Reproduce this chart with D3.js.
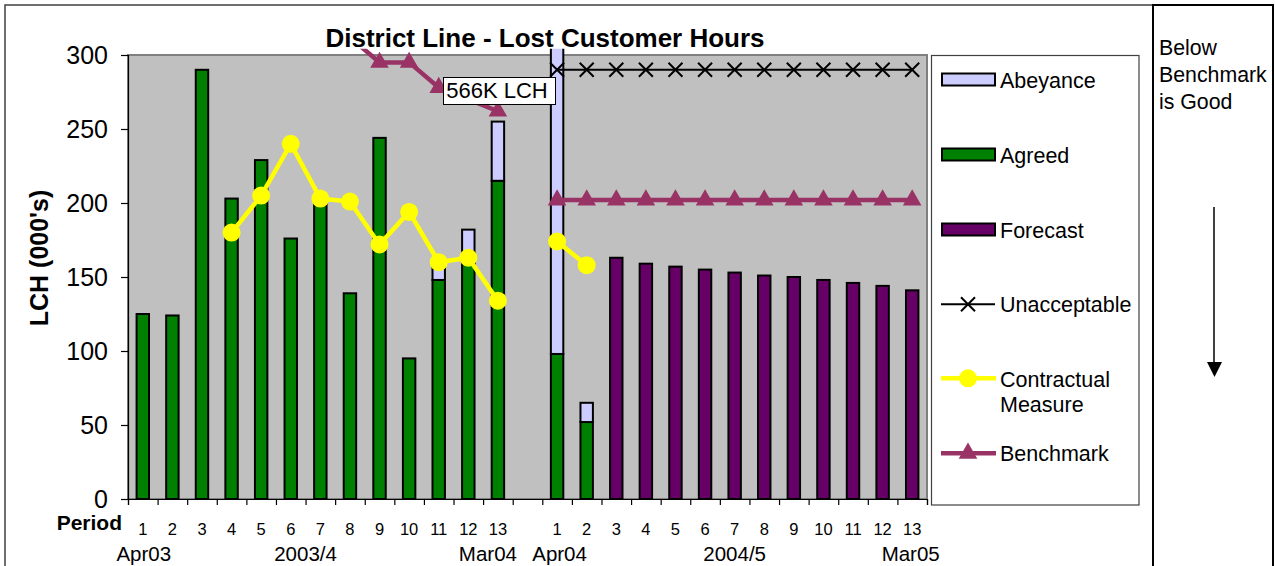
<!DOCTYPE html>
<html><head><meta charset="utf-8">
<script src="https://cdn.jsdelivr.net/npm/d3@7"></script>
<style>body{margin:0;background:#fff}svg{display:block;font-family:Arial,"Liberation Sans",sans-serif}</style>
</head><body><svg id="c" width="1275" height="566"></svg>
<script>
// ---- data ----
const periods = ["1","2","3","4","5","6","7","8","9","10","11","12","13"];
const categories = periods.map(p=>"A"+p).concat(["gap"]).concat(periods.map(p=>"B"+p));
const agreed03 = [125,124,290,203,229,176,204,139,244,95,148,159,215];
const abeyance03 = [0,0,0,0,0,0,0,0,0,0,8,23,40];
const agreed04 = [98,52,null,null,null,null,null,null,null,null,null,null,null];
const abeyance04 = [468,13,0,0,0,0,0,0,0,0,0,0,0];
const forecast04 = [null,null,163,159,157,155,153,151,150,148,146,144,141];
const unacceptable04 = [290,290,290,290,290,290,290,290,290,290,290,290,290];
const contractual03 = [null,null,null,180,205,240,203,201,172,194,160,163,134];
const contractual04 = [174,158,null,null,null,null,null,null,null,null,null,null,null];
const benchmark03 = [null,null,null,null,null,null,null,312,295,295,278,270,262];
const benchmark04 = [202,202,202,202,202,202,202,202,202,202,202,202,202];
const yTicks = [0,50,100,150,200,250,300];
const yearLabels = ["Apr03","2003/4","Mar04","Apr04","2004/5","Mar05"];
const legendItems = ["Abeyance","Agreed","Forecast","Unacceptable","Contractual Measure","Benchmark"];

const svg = d3.select("#c");
const L=128, R=927, T=55, B=499;
const x = d3.scaleBand().domain(categories).range([L,R]).paddingInner(0.58).paddingOuter(0.29);
const y = d3.scaleLinear().domain([0,300]).range([B,T]);
const cx = k => x(k)+x.bandwidth()/2;

// outer frame
svg.append("path").attr("d","M5,566V5H1153").attr("fill","none").attr("stroke","#404040").attr("stroke-width",1.5);
svg.append("path").attr("d","M1153,566V5H1273V566").attr("fill","none").attr("stroke","#000").attr("stroke-width",2);

// plot area
svg.append("rect").attr("x",L).attr("y",T).attr("width",R-L).attr("height",B-T).attr("fill","#C0C0C0").attr("stroke","#808080").attr("stroke-width",2);

svg.append("defs").append("clipPath").attr("id","clip").append("rect").attr("x",L-20).attr("y",48.5).attr("width",R-L+40).attr("height",B-48+20);
const g = svg.append("g").attr("clip-path","url(#clip)");

// bars
const barRows = [];
periods.forEach((p,i)=>{
  barRows.push({k:"A"+p, agreed:agreed03[i], abey:abeyance03[i], fc:null});
  barRows.push({k:"B"+p, agreed:agreed04[i], abey:abeyance04[i], fc:forecast04[i]});
});
barRows.forEach(d=>{
  if(d.fc!=null){
    g.append("rect").attr("x",x(d.k)).attr("width",x.bandwidth()).attr("y",y(d.fc)).attr("height",y(0)-y(d.fc)).attr("fill","#660066").attr("stroke","#000").attr("stroke-width",2);
  }
  if(d.agreed!=null){
    g.append("rect").attr("x",x(d.k)).attr("width",x.bandwidth()).attr("y",y(d.agreed)).attr("height",y(0)-y(d.agreed)).attr("fill","#008000").attr("stroke","#000").attr("stroke-width",2);
    if(d.abey>0){
      const top=d.agreed+d.abey;
      g.append("rect").attr("x",x(d.k)).attr("width",x.bandwidth()).attr("y",y(top)).attr("height",y(d.agreed)-y(top)).attr("fill","#CCCCFF").attr("stroke","#000").attr("stroke-width",2);
    }
  }
});

// lines
function series(arr, prefix){ return arr.map((v,i)=>({k:prefix+periods[i], v})).filter(d=>d.v!=null); }
const line = d3.line().x(d=>cx(d.k)).y(d=>y(d.v));

const un = series(unacceptable04,"B");
g.append("path").attr("d",line(un)).attr("fill","none").attr("stroke","#000").attr("stroke-width",2);
un.forEach(d=>{
  const px=cx(d.k), py=y(d.v), s=7;
  g.append("path").attr("d",`M${px-s},${py-s}L${px+s},${py+s}M${px-s},${py+s}L${px+s},${py-s}`).attr("stroke","#000").attr("stroke-width",2);
});

const tri = d3.symbol().type(d3.symbolTriangle).size(150);
[series(benchmark03,"A"), series(benchmark04,"B")].forEach(s=>{
  g.append("path").attr("d",line(s)).attr("fill","none").attr("stroke","#993366").attr("stroke-width",4.5);
  s.forEach(d=>g.append("path").attr("d",tri()).attr("transform",`translate(${cx(d.k)},${y(d.v)})`).attr("fill","#993366"));
});

[series(contractual03,"A"), series(contractual04,"B")].forEach(s=>{
  g.append("path").attr("d",line(s)).attr("fill","none").attr("stroke","#FFFF00").attr("stroke-width",4.5);
  s.forEach(d=>g.append("circle").attr("cx",cx(d.k)).attr("cy",y(d.v)).attr("r",9).attr("fill","#FFFF00"));
});

// title
svg.append("rect").attr("x",318).attr("y",24).attr("width",454).attr("height",24.5).attr("fill","#fff");
svg.append("text").attr("x",545).attr("y",47).attr("text-anchor","middle").attr("font-weight","bold").attr("font-size",26).text("District Line - Lost Customer Hours");

// 566K label
svg.append("rect").attr("x",443.5).attr("y",77.5).attr("width",112).attr("height",27).attr("fill","#fff").attr("stroke","#000").attr("stroke-width",1);
svg.append("text").attr("x",497).attr("y",98).attr("text-anchor","middle").attr("font-size",22).text("566K LCH");

// y axis
const ya = svg.append("g").attr("transform",`translate(${L},0)`).call(d3.axisLeft(y).tickValues(yTicks).tickSize(7).tickPadding(13));
ya.select(".domain").attr("stroke","#000").attr("stroke-width",1.2);
ya.selectAll(".tick line").attr("stroke","#000").attr("stroke-width",1.2);
ya.selectAll(".tick text").attr("font-size",25).attr("font-family","Arial,'Liberation Sans',sans-serif").attr("fill","#000");
svg.append("text").attr("transform","translate(48,258) rotate(-90)").attr("text-anchor","middle").attr("font-weight","bold").attr("font-size",25).text("LCH (000's)");

// x axis boundary ticks
const xb = d3.scaleLinear().domain([0,categories.length]).range([L,R]);
const xa = svg.append("g").attr("transform",`translate(0,${B})`).call(d3.axisBottom(xb).tickValues(d3.range(categories.length+1)).tickSize(6).tickFormat(""));
xa.select(".domain").attr("stroke","#000").attr("stroke-width",1.2);
xa.selectAll(".tick line").attr("stroke","#000").attr("stroke-width",1.2);

// period labels
categories.forEach(k=>{
  if(k==="gap") return;
  svg.append("text").attr("x",cx(k)).attr("y",535).attr("text-anchor","middle").attr("font-size",16.5).text(k.slice(1));
});
svg.append("text").attr("x",122).attr("y",530).attr("text-anchor","end").attr("font-weight","bold").attr("font-size",21).text("Period");
const yearPos = [cx("A1")+1, (cx("A6")+cx("A7"))/2, cx("A13")-10, cx("B1")+2.5, cx("B7"), cx("B13")-1.5];
yearLabels.forEach((t,i)=>{
  svg.append("text").attr("x",yearPos[i]).attr("y",561).attr("text-anchor","middle").attr("font-size",20.5).text(t);
});

// legend
svg.append("rect").attr("x",931.5).attr("y",55.5).attr("width",207.5).attr("height",449.5).attr("fill","#fff").attr("stroke","#404040").attr("stroke-width",1.2);
const legY = [79.5,154.5,229.5,304.3,378.3,453.3];
const fills = {"Abeyance":"#CCCCFF","Agreed":"#008000","Forecast":"#660066"};
legendItems.forEach((name,i)=>{
  const ly=legY[i];
  if(fills[name]){
    svg.append("rect").attr("x",942).attr("y",ly-6).attr("width",53).attr("height",12).attr("fill",fills[name]).attr("stroke","#000").attr("stroke-width",2);
  } else if(name==="Unacceptable"){
    svg.append("line").attr("x1",941).attr("x2",995).attr("y1",ly).attr("y2",ly).attr("stroke","#000").attr("stroke-width",2);
    const s=7, px=968;
    svg.append("path").attr("d",`M${px-s},${ly-s}L${px+s},${ly+s}M${px-s},${ly+s}L${px+s},${ly-s}`).attr("stroke","#000").attr("stroke-width",2);
  } else if(name==="Contractual Measure"){
    svg.append("line").attr("x1",941).attr("x2",996).attr("y1",ly).attr("y2",ly).attr("stroke","#FFFF00").attr("stroke-width",4.5);
    svg.append("circle").attr("cx",968).attr("cy",ly).attr("r",9).attr("fill","#FFFF00");
  } else {
    svg.append("line").attr("x1",941).attr("x2",996).attr("y1",ly).attr("y2",ly).attr("stroke","#993366").attr("stroke-width",4.5);
    svg.append("path").attr("d",tri()).attr("transform",`translate(968,${ly})`).attr("fill","#993366");
  }
  if(name==="Contractual Measure"){
    svg.append("text").attr("x",1000).attr("y",ly+8.4).attr("font-size",21.5).text("Contractual");
    svg.append("text").attr("x",1000).attr("y",ly+33.4).attr("font-size",21.5).text("Measure");
  } else {
    svg.append("text").attr("x",1000).attr("y",ly+8).attr("font-size",21.5).text(name);
  }
});

// right note
["Below","Benchmark","is Good"].forEach((t,i)=>{
  svg.append("text").attr("x",1159).attr("y",55+i*27).attr("font-size",21.3).text(t);
});
svg.append("line").attr("x1",1214).attr("x2",1214).attr("y1",207).attr("y2",364).attr("stroke","#000").attr("stroke-width",1.5);
svg.append("path").attr("d","M1207,362L1222,362L1214.5,377Z").attr("fill","#000");
</script></body></html>
